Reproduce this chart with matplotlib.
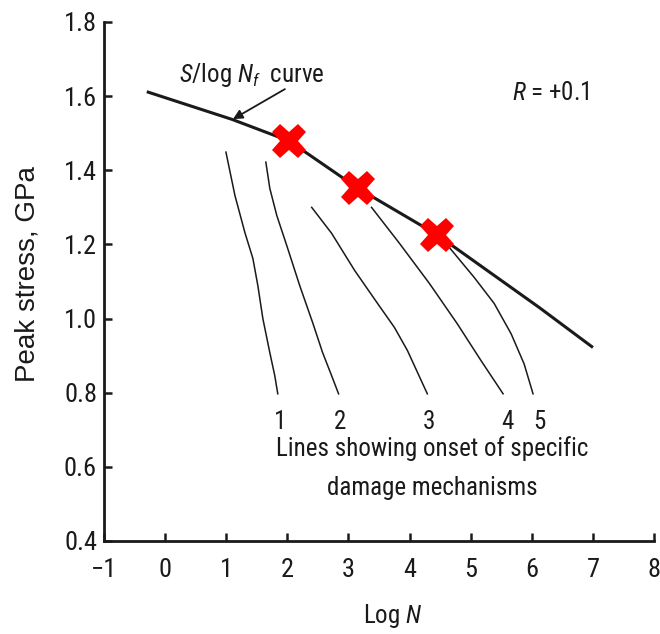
import matplotlib
matplotlib.use("Agg")
import matplotlib.pyplot as plt

# S/log Nf curve
curve_x = [-0.3, 1.1, 2.03, 3.15, 4.45, 6.12, 7.0]
curve_y = [1.612, 1.537, 1.479, 1.352, 1.226, 1.030, 0.922]

# marked points on the curve
mark_x = [2.03, 3.15, 4.45]
mark_y = [1.479, 1.352, 1.226]

# onset lines for damage mechanisms 1-5
onset_x = [
    [0.995, 1.142, 1.305, 1.436, 1.517, 1.599, 1.713, 1.794, 1.843],
    [1.648, 1.713, 1.827, 1.990, 2.202, 2.414, 2.577, 2.724, 2.838],
    [2.398, 2.724, 3.100, 3.475, 3.752, 3.964, 4.290],
    [3.377, 3.834, 4.323, 4.780, 5.171, 5.530],
    [4.649, 5.057, 5.383, 5.661, 5.873, 6.020],
]
onset_y = [
    [1.449, 1.332, 1.232, 1.162, 1.089, 1.000, 0.908, 0.846, 0.797],
    [1.422, 1.351, 1.278, 1.197, 1.089, 0.989, 0.908, 0.846, 0.797],
    [1.300, 1.230, 1.130, 1.041, 0.976, 0.914, 0.797],
    [1.300, 1.203, 1.095, 0.986, 0.886, 0.797],
    [1.192, 1.111, 1.041, 0.959, 0.878, 0.797],
]
onset_labels = ["1", "2", "3", "4", "5"]
onset_label_x = [1.88, 2.87, 4.31, 5.60, 6.13]

x_ticks = [-1, 0, 1, 2, 3, 4, 5, 6, 7, 8]
y_ticks = [0.4, 0.6, 0.8, 1.0, 1.2, 1.4, 1.6, 1.8]

plt.rcParams["font.family"] = ["Roboto Condensed", "Liberation Sans", "DejaVu Sans"]
plt.rcParams["mathtext.fontset"] = "custom"
plt.rcParams["mathtext.rm"] = "Roboto Condensed"
plt.rcParams["mathtext.it"] = "Roboto Condensed:italic"

fig = plt.figure(figsize=(6.6, 6.34), dpi=100)
ax = fig.add_axes([0.1576, 0.1467, 0.8334, 0.8186])

ink = "#1a1a1a"
fs = 18
ax.plot(curve_x, curve_y, color=ink, lw=2.2, solid_capstyle="butt", zorder=3)
for xs, ys in zip(onset_x, onset_y):
    ax.plot(xs, ys, color=ink, lw=1.1, zorder=2)
ax.plot(mark_x, mark_y, linestyle="none", marker="X", markersize=25,
        color="#ff0000", markeredgewidth=0, zorder=4)

for lab, lx in zip(onset_labels, onset_label_x):
    ax.text(lx, 0.722, lab, fontsize=fs, color=ink, ha="center", va="center")

ax.text(4.37, 0.649, "Lines showing onset of specific", fontsize=fs,
        color=ink, ha="center", va="center")
ax.text(4.37, 0.543, "damage mechanisms", fontsize=fs,
        color=ink, ha="center", va="center")

ax.text(1.42, 1.657, r"$S$/log $N_f$  curve", fontsize=fs, color=ink,
        ha="center", va="center")
ax.annotate("", xy=(1.11, 1.538), xytext=(1.96, 1.619),
            arrowprops=dict(arrowstyle="-|>", color=ink, lw=1.3,
                            mutation_scale=14, shrinkA=0, shrinkB=0))
ax.text(6.31, 1.608, r"$R$ = +0.1", fontsize=fs, color=ink,
        ha="center", va="center")

ax.set_xlim(-1, 8)
ax.set_ylim(0.4, 1.8)
ax.set_xticks(x_ticks)
ax.set_yticks(y_ticks)
ax.set_xticklabels(["\u22121"] + [str(v) for v in x_ticks[1:]])
ax.set_yticklabels([f"{v:.1f}" for v in y_ticks])

for side in ("top", "right"):
    ax.spines[side].set_visible(False)
for side in ("left", "bottom"):
    ax.spines[side].set_linewidth(2.0)
    ax.spines[side].set_color(ink)

ax.tick_params(axis="both", direction="in", length=6, width=1.8,
               colors=ink, labelsize=19)
ax.tick_params(axis="x", pad=12)
ax.tick_params(axis="y", pad=5)

ax.set_ylabel("Peak stress, GPa", fontsize=20, color=ink,
              family=["Liberation Sans", "DejaVu Sans"])
ax.yaxis.set_label_coords(-0.116, 0.515)
ax.set_xlabel(r"Log $N$", fontsize=fs, color=ink)
ax.xaxis.set_label_coords(0.524, -0.118)

fig.savefig("out.png", dpi=100)
